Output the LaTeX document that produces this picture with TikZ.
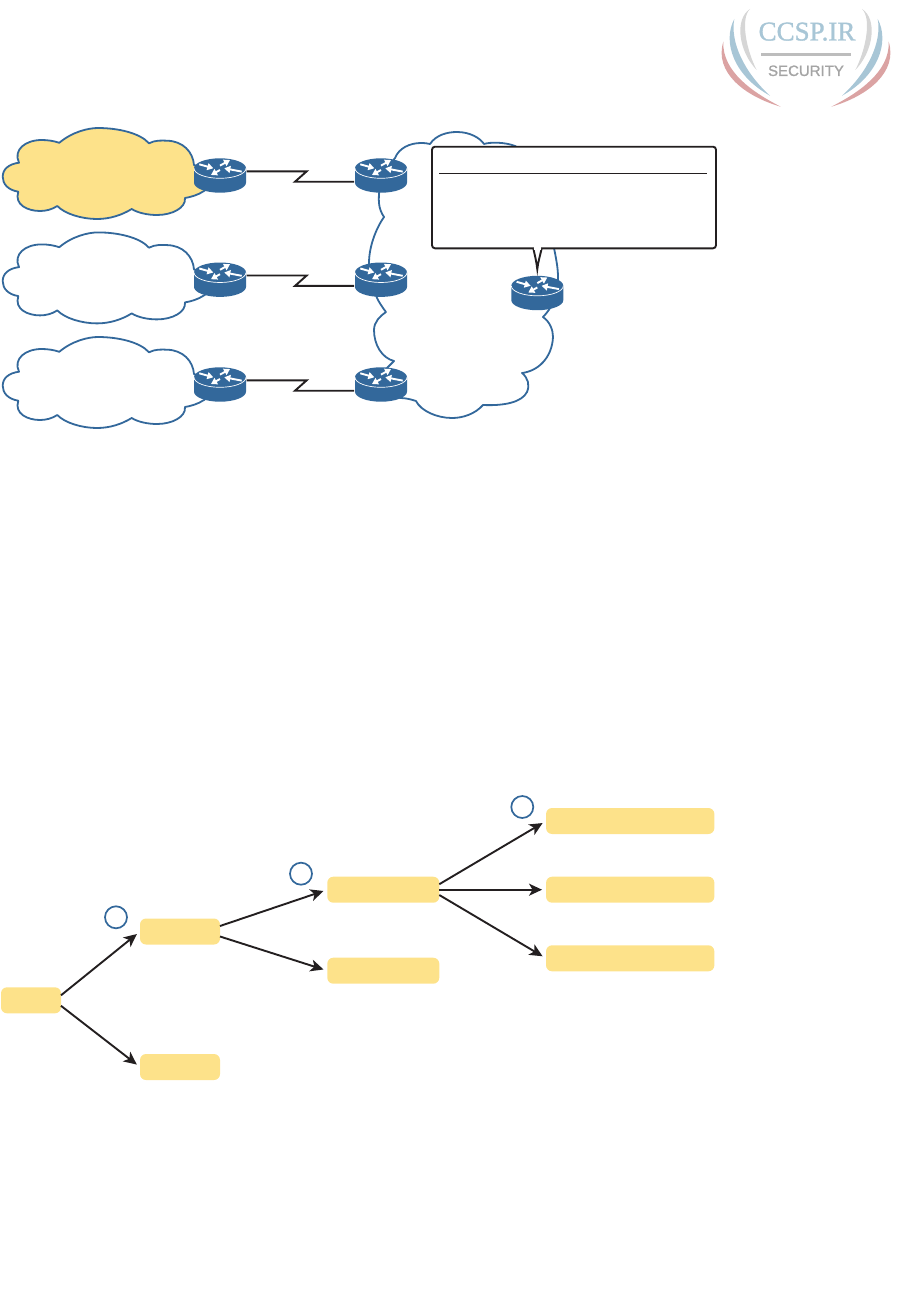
\documentclass[tikz,border=0pt]{standalone}
\usepackage{fontspec}
\setmainfont{Liberation Serif}
\newfontfamily\logoserif[FakeBold=1.2]{Liberation Serif}
\newfontfamily\logosans[FakeBold=1.2]{Liberation Sans}
\usetikzlibrary{arrows.meta,calc}
\definecolor{ciscoblue}{HTML}{33689B}
\definecolor{paleyellow}{HTML}{FDE28A}
\definecolor{inkblack}{HTML}{231F20}
\definecolor{logoblue}{HTML}{A8C6D6}
\definecolor{logored}{HTML}{DBA3A3}
\definecolor{logogray}{HTML}{D6D6D6}
\definecolor{logorule}{HTML}{BDBDBD}
\definecolor{logotext}{HTML}{A4A4A4}
\tikzset{
  cloudline/.style={draw=ciscoblue,line width=1.8pt,line join=round},
  routerbox/.style={minimum width=52pt,minimum height=34.4pt,inner sep=0pt,outer sep=0pt},
  serial/.style={draw=inkblack,line width=1.9pt,miter limit=10},
  treebox/.style={fill=paleyellow,rounded corners=6pt,inner sep=0pt,outer sep=0pt,minimum height=26pt},
  treearrow/.style={draw=inkblack,line width=1.9pt,shorten >=4pt,-{Stealth[length=13pt,width=12pt,inset=3.5pt]}},
  stepcircle/.style={circle,draw=ciscoblue,line width=1.7pt,minimum size=22pt,inner sep=0pt},
  routersym/.pic={
    \fill[ciscoblue] (-26,-7.2) -- (-26,7.2) arc[start angle=180,end angle=0,x radius=26,y radius=10] -- (26,-7.2) -- cycle;
    \fill[ciscoblue] (0,-7.2) ellipse[x radius=26,y radius=10];
    \draw[white,line width=0.7pt] (-26,-7.2) arc[start angle=180,end angle=0,x radius=26,y radius=10];
    \begin{scope}[white,line width=1.9pt,-{Triangle[length=6pt,width=7pt]}]
      \draw (-20.7,-11.2) -- (-6.7,-7.2);
      \draw (0,-9.9) -- (10,-15.5);
      \draw (21.7,-3.9) -- (4.3,-7.2);
      \draw (0,-5.5) -- (-9,-0.5);
    \end{scope}
  },
  logoarcs/.pic={
    \fill[logogray] (-56,9) .. controls (-71.6,18.8) and (-67.7,51.2) .. (-49.3,70) .. controls (-59.2,51.2) and (-66.2,18.8) .. cycle;
    \fill[logoblue] (-71.7,19) .. controls (-84,42) and (-72,76) .. (-36,95.7) .. controls (-62,72) and (-76,42) .. cycle;
    \fill[logored] (-82.7,41.7) .. controls (-92,72) and (-62,96) .. (-25.3,106.7) .. controls (-52,93) and (-84,72) .. cycle;
  },
  cloudshape/.pic={
    \path[pic actions] (59.3,142.8) .. controls (72,132) and (88,128) .. (98,128)
      .. controls (118,128) and (140,133) .. (149,143.3)
      .. controls (155,140) and (162,140.5) .. (167,140.7)
      .. controls (183,141) and (193,152) .. (194,165)
      .. controls (210,170) and (215,185) .. (204,191)
      .. controls (198,195) and (191,197) .. (185,198)
      .. controls (186,208) and (172,215) .. (157,215)
      .. controls (148,215) and (138,213) .. (131.7,209)
      .. controls (122,215) and (110,219) .. (97,219)
      .. controls (82,219) and (65,214) .. (57.3,206)
      .. controls (52,209.5) and (46,211) .. (40,211)
      .. controls (28,211) and (14,205) .. (18.3,191.7)
      .. controls (8,190) and (2.7,184) .. (2.7,176.7)
      .. controls (2.7,169) and (9,164) .. (19,162.7)
      .. controls (13,150) and (25,140) .. (41.7,140)
      .. controls (48,140) and (54,141) .. (59.3,142.8) -- cycle;
  }
}
\begin{document}
\begin{tikzpicture}[x=1pt,y=-1pt]
\useasboundingbox (0,0) rectangle (918,1314);
% logo
\pic at (806,0) {logoarcs};
\pic[xscale=-1] at (806,0) {logoarcs};
\node[text=logoblue,inner sep=0pt] (logoname) at (807,31.7) {\logoserif\fontsize{27}{27}\selectfont CCSP.IR};
\fill[logorule] (761,53.5) rectangle (851,56.5);
\node[text=logotext,inner sep=0pt] (logosub) at (806,70.8) {\logosans\fontsize{15}{15}\selectfont SECURITY};
% clouds
\pic[cloudline,fill=paleyellow] at (0,0) {cloudshape};
\pic[cloudline] at (0,104.4) {cloudshape};
\pic[cloudline] at (0,209) {cloudshape};
\draw[cloudline] (384,217) .. controls (378,208) and (378,200) .. (380,185)
  .. controls (383,170) and (390,165) .. (395,158)
  .. controls (399,148) and (410,143) .. (421,143)
  .. controls (425,143) and (428,143.5) .. (430,144)
  .. controls (436,135) and (447,132) .. (457,132)
  .. controls (470,132) and (480,138) .. (484,144)
  .. controls (490,142) and (505,142) .. (515,146)
  .. controls (535,155) and (550,200) .. (554,248)
  .. controls (556,258) and (558,268) .. (558,277)
  .. controls (558,295) and (552,308) .. (543,317)
  .. controls (550,322) and (553,330) .. (553,337)
  .. controls (552,358) and (538,371) .. (522,373)
  .. controls (528,378) and (530,385) .. (527,392)
  .. controls (522,402) and (505,406) .. (483,405)
  .. controls (475,414) and (463,418) .. (452,418)
  .. controls (437,418) and (421,411) .. (416,401)
  .. controls (410,399) and (405,398) .. (400,398)
  .. controls (395,385) and (385,375) .. (387,368)
  -- (394,361)
  .. controls (382,358) and (374,345) .. (374,330)
  .. controls (374,322) and (380,316) .. (386,312)
  .. controls (382,307) and (379,302) .. (377,298)
  .. controls (372,285) and (369,275) .. (369,263)
  .. controls (369,248) and (375,230) .. (384,217) -- cycle;
% routers
\node[routerbox] (r1) at (220,175.5) {};
\node[routerbox] (r2) at (220,279.7) {};
\node[routerbox] (r3) at (220,384.5) {};
\node[routerbox] (r4) at (381,175.5) {};
\node[routerbox] (r5) at (381,279.7) {};
\node[routerbox] (r6) at (381,384.5) {};
\node[routerbox] (r7) at (537.3,293) {};
\foreach \r in {r1,r2,r3,r4,r5,r6,r7} {\pic at (\r) {routersym};}
% serial links
\draw[serial] ($(r1.east)+(0.7,-4.2)$) -- ++(60,0) -- ++(-11.7,10.4) -- ($(r4.west)+(-1,6.2)$);
\draw[serial] ($(r2.east)+(0.7,-4.2)$) -- ++(60,0) -- ++(-11.7,10.4) -- ($(r5.west)+(-1,6.2)$);
\draw[serial] ($(r3.east)+(0.7,-4.2)$) -- ++(60,0) -- ++(-11.7,10.4) -- ($(r6.west)+(-1,6.2)$);
% callout
\node[draw=inkblack,fill=white,line width=1.9pt,rounded corners=3pt,minimum width=284pt,minimum height=101.6pt,inner sep=0pt,outer sep=0pt] (callout) at (574,197.5) {};
\filldraw[draw=inkblack,fill=white,line width=1.9pt,miter limit=10] (533.3,248.3) .. controls (535,256) and (536.5,262) .. (537.3,269.3) .. controls (538,262) and (540,256) .. (541.7,248.3);
\fill[white] (534.4,246.5) rectangle (540.6,249.6);
\draw[inkblack,line width=0.9pt] ($(callout.north west)+(7,26.6)$) -- ($(callout.north east)+(-9,26.6)$);
% tree
\node[treebox,minimum width=60pt] (root) at (31,1000.3) {};
\node[treebox,minimum width=80pt] (b1) at (180,931.5) {};
\node[treebox,minimum width=80pt] (b2) at (180,1067) {};
\node[treebox,minimum width=112pt] (c1) at (383.3,889.7) {};
\node[treebox,minimum width=112pt] (c2) at (383.3,970.7) {};
\node[treebox,minimum width=168.3pt] (d1) at (630.2,821) {};
\node[treebox,minimum width=168.3pt] (d2) at (630.2,889.7) {};
\node[treebox,minimum width=168.3pt] (d3) at (630.2,958.3) {};
\node[stepcircle] (s1) at (116,917.3) {};
\node[stepcircle] (s2) at (301,873.7) {};
\node[stepcircle] (s3) at (522.3,807) {};
\draw[treearrow] ($(root.east)+(0,-5)$) -- (b1.west);
\draw[treearrow] ($(root.east)+(0,5.5)$) -- (b2.west);
\draw[treearrow] ($(b1.east)+(0,-5.5)$) -- (c1.west);
\draw[treearrow] ($(b1.east)+(0,5)$) -- (c2.west);
\draw[treearrow] ($(c1.east)+(0,-5.5)$) -- (d1.west);
\draw[treearrow] (c1.east) -- (d2.west);
\draw[treearrow] ($(c1.east)+(0,5.3)$) -- (d3.west);
\end{tikzpicture}
\end{document}
